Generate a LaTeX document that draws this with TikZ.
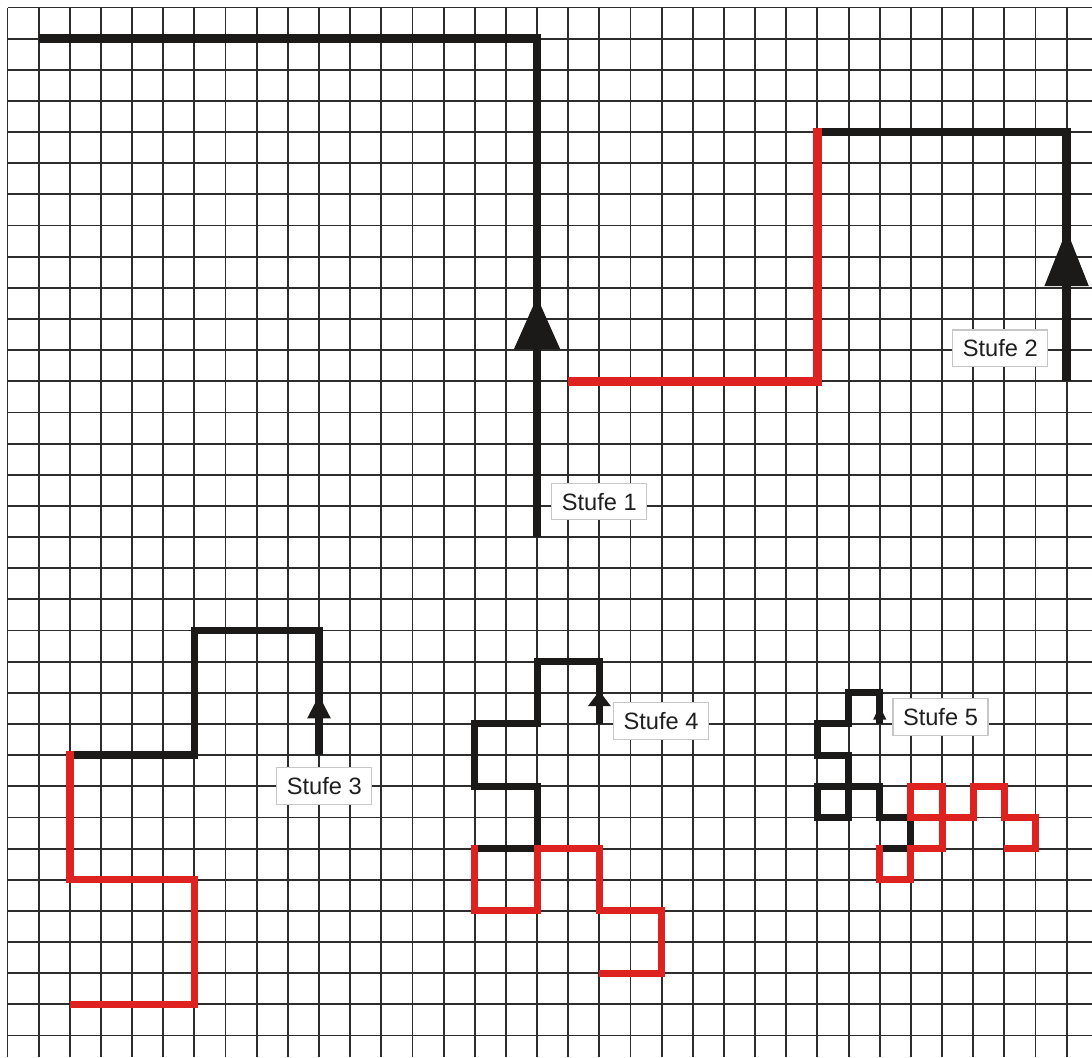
\documentclass[tikz,border=0pt]{standalone}
\usepackage{fontspec}
\newfontfamily\stufefont{Liberation Sans}
\usetikzlibrary{arrows.meta}
\definecolor{curveblack}{RGB}{28,25,25}
\definecolor{curvered}{RGB}{221,34,31}
\definecolor{gridgray}{RGB}{45,45,45}
\tikzset{
  gridline/.style={draw=gridgray, line width=0.85pt},
  blackpart/.style={draw=curveblack, line width=#1, line join=miter},
  redpart/.style={draw=curvered, line width=#1, line join=miter},
  stufelabel/.style={draw=black!22, line width=0.5pt, fill=white, text=black!88, inner sep=0pt,
    font=\stufefont\fontsize{10.8pt}{13pt}\selectfont, minimum width=43.4pt, minimum height=16.7pt}
}
\begin{document}
\begin{tikzpicture}[x=0.5cm, y=0.5cm]
  \useasboundingbox (-0.2408,0.2408) rectangle (34.815,-33.692);
  \draw[gridline, step=0.5cm] (0,-33.692) grid (34.815,0);

  % Stufe 1
  \draw[blackpart=3.9pt] (17,-17) -- (17,-1) -- (1,-1);
  \draw[blackpart=3.9pt, -{Triangle[length=24pt,width=20pt]}] (17,-12) -- (17,-9.28);

  % Stufe 2
  \draw[blackpart=3.9pt] (34,-12) -- (34,-4) -- (26,-4);
  \draw[redpart=3.9pt, shorten <=-1.95pt] (26,-4) -- (26,-12) -- (18,-12);
  \draw[blackpart=3.9pt, -{Triangle[length=26pt,width=19.2pt]}] (34,-10) -- (34,-7.12);

  % Stufe 3
  \draw[blackpart=3.4pt] (10,-24) -- (10,-20) -- (6,-20) -- (6,-24) -- (2,-24);
  \draw[redpart=3.4pt, shorten <=-1.7pt] (2,-24) -- (2,-28) -- (6,-28) -- (6,-32) -- (2,-32);
  \draw[blackpart=3.4pt, -{Triangle[length=10.7pt,width=10pt]}] (10,-24) -- (10,-22.07);

  % Stufe 4
  \draw[blackpart=3.2pt] (19,-23) -- (19,-21) -- (17,-21) -- (17,-23) -- (15,-23) -- (15,-25)
    -- (17,-25) -- (17,-27) -- (15,-27);
  \draw[redpart=3.2pt, shorten <=-1.6pt] (15,-27) -- (15,-29) -- (17,-29) -- (17,-27) -- (19,-27)
    -- (19,-29) -- (21,-29) -- (21,-31) -- (19,-31);
  \draw[blackpart=3.2pt, -{Triangle[length=6.9pt,width=10pt]}] (19,-23) -- (19,-21.94);

  % Stufe 5
  \draw[blackpart=3.2pt] (28,-23) -- (28,-22) -- (27,-22) -- (27,-23) -- (26,-23) -- (26,-24)
    -- (27,-24) -- (27,-25) -- (26,-25) -- (26,-26) -- (27,-26) -- (27,-25) -- (28,-25)
    -- (28,-26) -- (29,-26) -- (29,-27) -- (28,-27);
  \draw[redpart=3.2pt, shorten <=-1.6pt] (28,-27) -- (28,-28) -- (29,-28) -- (29,-27) -- (30,-27)
    -- (30,-26) -- (29,-26) -- (29,-25) -- (30,-25) -- (30,-26) -- (31,-26) -- (31,-25)
    -- (32,-25) -- (32,-26) -- (33,-26) -- (33,-27) -- (32,-27);
  \draw[blackpart=3.2pt, -{Triangle[length=6.4pt,width=5.5pt]}] (28,-23) -- (28,-22.41);

  \node[stufelabel] (stufe1) at (19.0,-15.86) {Stufe 1};
  \node[stufelabel] (stufe2) at (31.87,-10.94) {Stufe 2};
  \node[stufelabel] (stufe3) at (10.17,-24.99) {Stufe 3};
  \node[stufelabel] (stufe4) at (20.98,-22.9) {Stufe 4};
  \node[stufelabel] (stufe5) at (29.95,-22.78) {Stufe 5};
\end{tikzpicture}
\end{document}
